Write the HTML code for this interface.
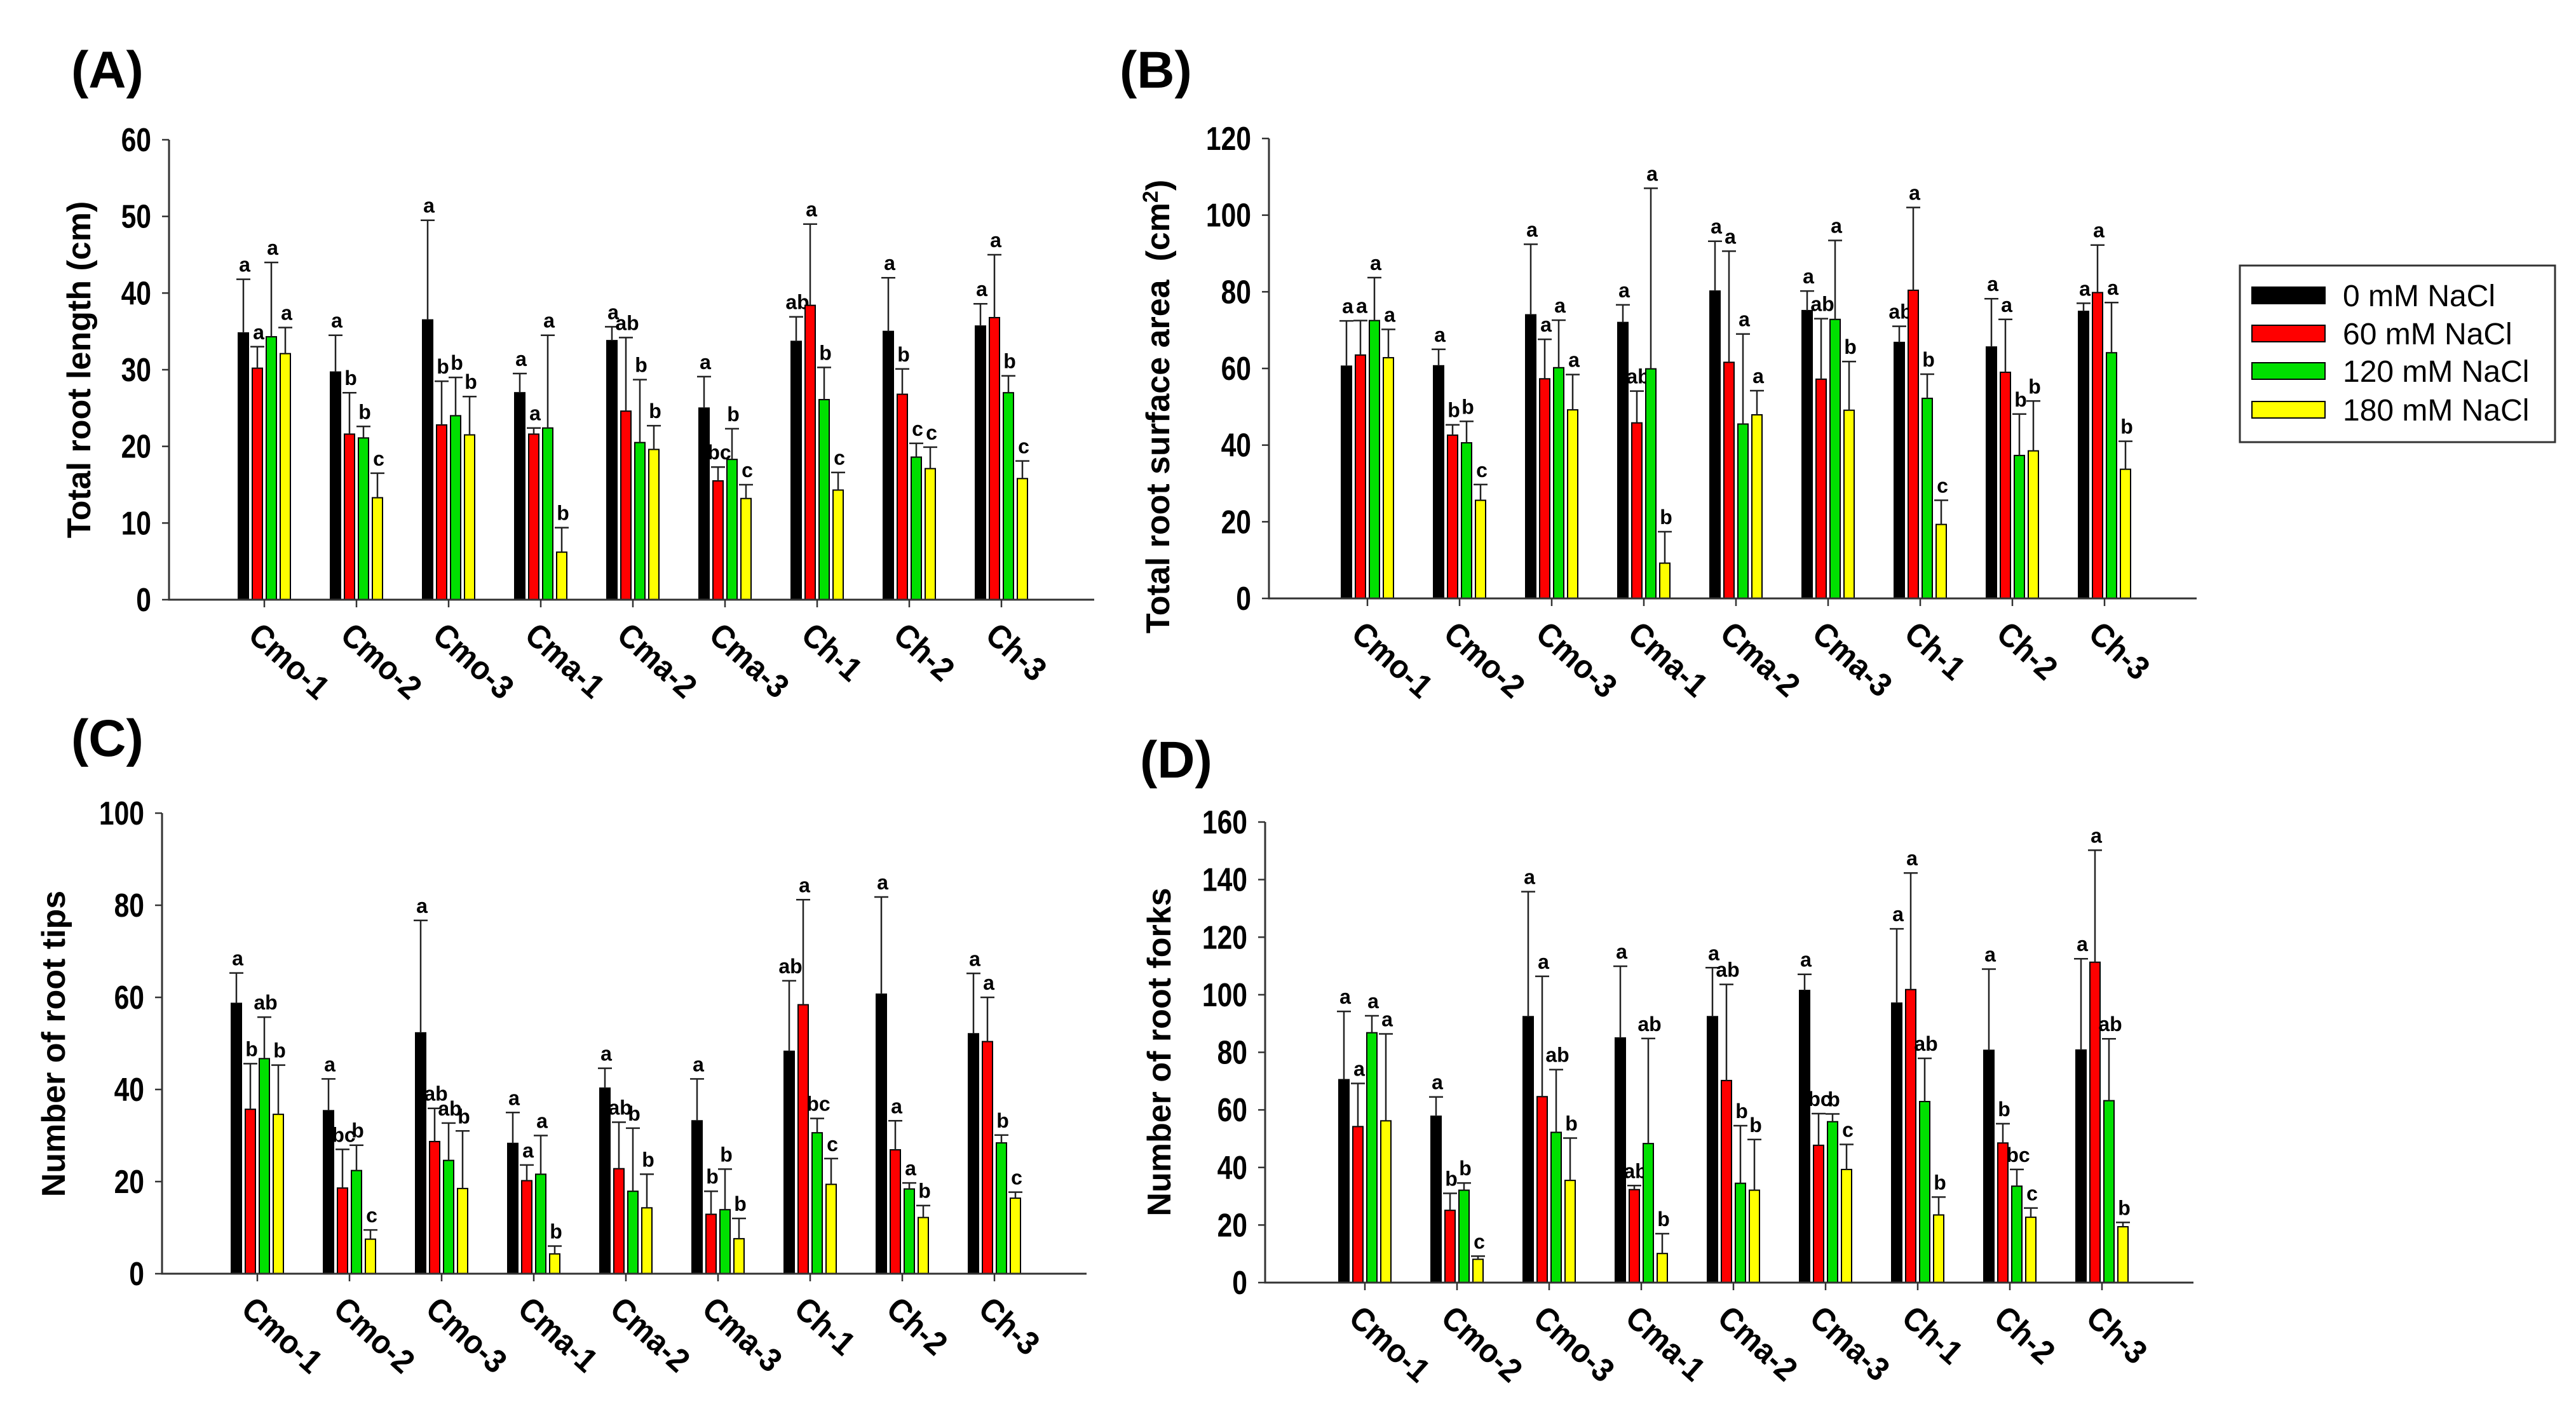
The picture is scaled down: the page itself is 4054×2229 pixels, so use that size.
<!DOCTYPE html>
<html><head><meta charset="utf-8"><style>
html,body{margin:0;padding:0;background:#fff;}
svg{display:block;font-family:"Liberation Sans",Arial,sans-serif;}
</style></head><body>
<svg id="fig" width="4054" height="2229" viewBox="0 0 4054 2229" xmlns="http://www.w3.org/2000/svg">
<g id="root"></g>
</svg>
<script>
const categories = ["Cmo-1","Cmo-2","Cmo-3","Cma-1","Cma-2","Cma-3","Ch-1","Ch-2","Ch-3"];
const seriesNames = ["0 mM NaCl","60 mM NaCl","120 mM NaCl","180 mM NaCl"];
const seriesColors = ["#000000","#ff0000","#00e000","#ffff00"];

// Panel A: total root length (cm) — [0,60,120,180] per category
const lenMean = [[34.8,30.2,34.3,32.1],[29.7,21.6,21.1,13.3],[36.5,22.8,24.0,21.5],[27.0,21.6,22.4,6.2],[33.8,24.6,20.5,19.6],[25.0,15.5,18.3,13.2],[33.7,38.4,26.1,14.3],[35.0,26.8,18.6,17.1],[35.7,36.8,27.0,15.8]];
const lenErrTop = [[41.8,33.0,44.0,35.5],[34.5,27.0,22.6,16.5],[49.5,28.5,29.0,26.5],[29.5,22.4,34.5,9.4],[35.6,34.2,28.7,22.7],[29.1,17.3,22.3,15.0],[36.9,49.0,30.3,16.6],[42.0,30.1,20.4,19.9],[38.6,45.0,29.2,18.1]];
const lenLetters = [["a","a","a","a"],["a","b","b","c"],["a","b","b","b"],["a","a","a","b"],["a","ab","b","b"],["a","bc","b","c"],["ab","a","b","c"],["a","b","c","c"],["a","a","b","c"]];
const lenTicks = [0,10,20,30,40,50,60];

// Panel B: surface area (cm2)
const areaMean = [[60.6,63.5,72.5,62.8],[60.7,42.6,40.6,25.6],[74.0,57.3,60.2,49.2],[72.0,45.8,59.9,9.2],[80.2,61.6,45.5,47.9],[75.1,57.2,72.8,49.1],[66.8,80.4,52.2,19.3],[65.6,59.0,37.3,38.5],[74.9,79.8,64.1,33.7]];
const areaErrTop = [[72.4,72.5,83.7,70.2],[65.0,45.3,46.2,29.7],[92.4,67.6,72.6,58.4],[76.6,54.1,107.0,17.4],[93.2,90.6,69.0,54.2],[80.2,73.0,93.4,61.8],[71.0,102.0,58.5,25.6],[78.2,72.8,48.1,51.5],[77.0,92.2,77.2,41.0]];
const areaLetters = [["a","a","a","a"],["a","b","b","c"],["a","a","a","a"],["a","ab","a","b"],["a","a","a","a"],["a","ab","a","b"],["ab","a","b","c"],["a","a","b","b"],["a","a","a","b"]];
const areaTicks = [0,20,40,60,80,100,120];

// Panel C: number of root tips
const tipsMean = [[58.7,35.7,46.7,34.6],[35.4,18.6,22.4,7.5],[52.3,28.7,24.6,18.5],[28.3,20.2,21.6,4.3],[40.3,22.8,17.9,14.3],[33.2,12.9,13.9,7.6],[48.3,58.4,30.6,19.4],[60.7,26.9,18.4,12.2],[52.1,50.4,28.4,16.4]];
const tipsErrTop = [[65.3,45.6,55.7,45.3],[42.3,27.0,27.9,9.5],[76.7,35.9,32.7,31.0],[35.0,23.6,30.0,6.0],[44.6,32.9,31.6,21.6],[42.3,17.9,22.7,12.0],[63.6,81.2,33.7,25.0],[81.8,33.2,19.7,14.8],[65.2,60.0,30.1,17.7]];
const tipsLetters = [["a","b","ab","b"],["a","bc","b","c"],["a","ab","ab","b"],["a","a","a","b"],["a","ab","b","b"],["a","b","b","b"],["ab","a","bc","c"],["a","a","a","b"],["a","a","b","c"]];
const tipsTicks = [0,20,40,60,80,100];

// Panel D: number of root forks
const forksMean = [[70.5,54.2,86.8,56.2],[57.8,25.1,32.1,8.1],[92.4,64.6,52.2,35.5],[85.0,32.3,48.3,10.1],[92.4,70.2,34.5,32.1],[101.5,47.7,55.9,39.3],[97.1,101.8,62.9,23.5],[80.7,48.5,33.5,22.7],[80.8,111.3,63.2,19.4]];
const forksErrTop = [[94.2,69.2,92.7,86.4],[64.5,31.0,34.6,9.2],[135.8,106.4,74.0,50.2],[109.9,33.7,84.8,17.0],[109.4,103.6,54.5,49.7],[107.1,58.7,58.6,48.0],[122.9,142.3,77.9,29.7],[108.9,55.2,39.3,25.9],[112.5,150.2,84.7,20.9]];
const forksLetters = [["a","a","a","a"],["a","b","b","c"],["a","a","ab","b"],["a","ab","ab","b"],["a","ab","b","b"],["a","bc","b","c"],["a","a","ab","b"],["a","b","bc","c"],["a","a","ab","b"]];
const forksTicks = [0,20,40,60,80,100,120,140,160];

const NS = "http://www.w3.org/2000/svg";
const root = document.getElementById('root');
function mk(tag, attrs, parent){
  const e = document.createElementNS(NS, tag);
  for (const k in attrs) e.setAttribute(k, attrs[k]);
  (parent||root).appendChild(e);
  return e;
}

function panel(p){
  const g = mk('g', {});
  
  
  const yMax = p.ticks[p.ticks.length-1];
  const ys = v => p.y0 - (v / yMax) * (p.y0 - p.yTop);
  const xs = i => p.xFirst + i * p.spacing;

  const lab = mk('text', {x: p.lx, y: p.ly, 'font-size': 82, 'font-weight': 'bold', fill: '#000'}, g);
  lab.textContent = '(' + p.id.toUpperCase() + ')';
  
  

  const offs = [-33, -11, 11, 33];
  const bw = 16;
  for (let i = 0; i < categories.length; i++){
    for (let s = 0; s < 4; s++){
      const cx = xs(i) + offs[s];
      const v = p.mean[i][s], et = p.err[i][s];
      const yv = ys(v);
      const r = mk('rect', {x: cx - bw/2, y: yv, width: bw, height: p.y0 - yv, fill: seriesColors[s], stroke: '#000', 'stroke-width': 2}, g);
      
      
      const ye = ys(et);
      const el = mk('path', {d: `M${cx} ${yv}V${ye}M${cx-11} ${ye}H${cx+11}`, stroke: '#222', 'stroke-width': 2.5, fill: 'none'}, g);
      
      
      const t = mk('text', {x: cx + 2, y: ye - 12, 'font-size': 32, 'font-weight': 'bold', 'text-anchor': 'middle', fill: '#000'}, g);
      t.textContent = p.letters[i][s];
      
      
    }
  }

  const ax = mk('path', {d: `M${p.x0} ${p.yTop}V${p.y0}H${p.xEnd}`, stroke: '#333', 'stroke-width': 3, fill: 'none'}, g);
  
  
  for (const tv of p.ticks){
    const y = ys(tv);
    mk('line', {x1: p.x0 - 11, x2: p.x0, y1: y, y2: y, stroke: '#333', 'stroke-width': 2.5}, g);
    const t = mk('text', {transform: `translate(${p.x0 - 28},${y + 18}) scale(0.82,1)`, 'font-size': 52, 'font-weight': 'bold', 'text-anchor': 'end', fill: '#000'}, g);
    t.textContent = tv;
    
    
  }
  for (let i = 0; i < categories.length; i++){
    const x = xs(i);
    mk('line', {x1: x, x2: x, y1: p.y0, y2: p.y0 + 12, stroke: '#333', 'stroke-width': 2.5}, g);
    const t = mk('text', {transform: `translate(${x - 28},${p.y0 + 60}) rotate(42) scale(0.92,1)`, 'font-size': 52, 'font-weight': 'bold', fill: '#000'}, g);
    t.textContent = categories[i];
    
    
  }
  const yt = mk('text', {transform: `translate(${p.tx},${p.ty}) rotate(-90)`, 'font-size': 52, 'font-weight': 'bold', 'text-anchor': 'middle', fill: '#000'}, g);
  yt.innerHTML = p.title;
  
  
}

panel({id:'a', mean:lenMean, err:lenErrTop, letters:lenLetters, ticks:lenTicks,
  x0:266, y0:944, yTop:220, xEnd:1722, xFirst:416, spacing:145, lx:112, ly:138, tx:142, ty:582,
  title:'Total root length (cm)'});
panel({id:'b', mean:areaMean, err:areaErrTop, letters:areaLetters, ticks:areaTicks,
  x0:1997, y0:942, yTop:218, xEnd:3457, xFirst:2152, spacing:145, lx:1762, ly:138, tx:1840, ty:640,
  title:'Total root surface area&#160;&#160;(cm<tspan dy="-18" font-size="34">2</tspan><tspan dy="18">)</tspan>'});
panel({id:'c', mean:tipsMean, err:tipsErrTop, letters:tipsLetters, ticks:tipsTicks,
  x0:255, y0:2005, yTop:1280, xEnd:1710, xFirst:405, spacing:145, lx:112, ly:1190, tx:102, ty:1643,
  title:'Number of root tips'});
panel({id:'d', mean:forksMean, err:forksErrTop, letters:forksLetters, ticks:forksTicks,
  x0:1991, y0:2019, yTop:1294, xEnd:3452, xFirst:2148, spacing:145, lx:1794, ly:1224, tx:1842, ty:1656,
  title:'Number of root forks'});

const lg = mk('g', {});


mk('rect', {x: 3525, y: 418, width: 496, height: 278, fill: '#fff', stroke: '#333', 'stroke-width': 3}, lg);
const rowY = [465, 525, 584, 645];
for (let s = 0; s < 4; s++){
  const sw = mk('rect', {x: 3544, y: rowY[s] - 13, width: 115, height: 26, fill: seriesColors[s], stroke: '#000', 'stroke-width': 2}, lg);
  
  
  const t = mk('text', {x: 3687, y: rowY[s] + 17, 'font-size': 48, fill: '#000'}, lg);
  t.textContent = seriesNames[s];
  
  
}
</script>
</body></html>
